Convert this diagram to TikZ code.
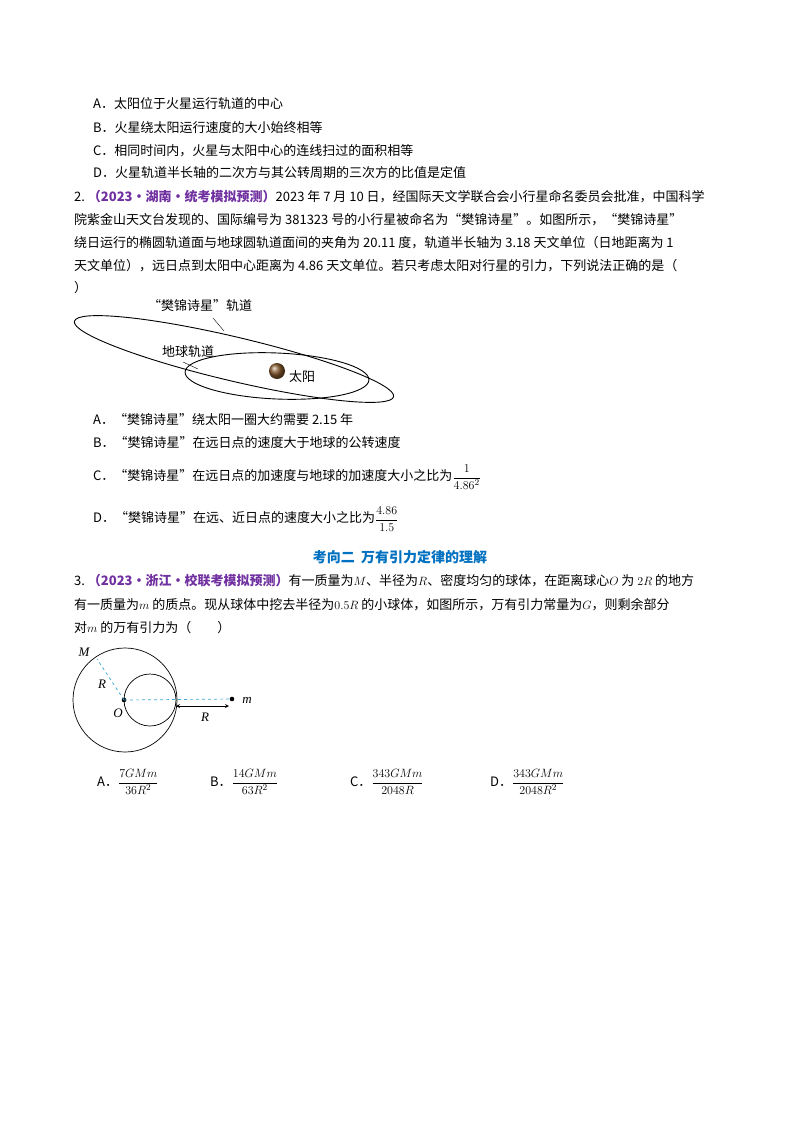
\documentclass[tikz,border=0pt]{standalone}
\usepackage{amsmath}
\usepackage{fontspec}
\setmainfont{Liberation Serif}
\newfontfamily\cjk{Noto Sans CJK SC}
\DeclareMathSizes{13}{13}{9.5}{7}
\definecolor{qp}{RGB}{112,48,160}
\definecolor{hb}{RGB}{0,112,192}
\definecolor{dl}{RGB}{60,170,210}
\begin{document}
\begin{tikzpicture}[x=1pt,y=-1pt,
 t/.style={anchor=west,inner sep=0pt,font=\fontsize{13}{15}\selectfont\cjk},
 lbl/.style={inner sep=1pt,font=\fontsize{13}{15}\selectfont\cjk},
 il/.style={inner sep=1pt,font=\fontsize{13}{15}\selectfont\itshape}]
\useasboundingbox (0,0) rectangle (800,1132);
\fill[white] (0,0) rectangle (800,1132);
% Q1 options
\node[t] (a1) at (93,104) {A．太阳位于火星运行轨道的中心};
\node[t] (b1) at (93,128) {B．火星绕太阳运行速度的大小始终相等};
\node[t] (c1) at (93,151) {C．相同时间内，火星与太阳中心的连线扫过的面积相等};
\node[t] (d1) at (93,173) {D．火星轨道半长轴的二次方与其公转周期的三次方的比值是定值};
% Q2
\node[t] (q2a) at (74,197) {2.\ {\color{qp}\bfseries（2023·湖南·统考模拟预测）}2023 年 7 月 10 日，经国际天文学联合会小行星命名委员会批准，中国科学};
\node[t] (q2b) at (74,220) {院紫金山天文台发现的、国际编号为 381323 号的小行星被命名为“樊锦诗星”。如图所示，“樊锦诗星”};
\node[t] (q2c) at (74,243) {绕日运行的椭圆轨道面与地球圆轨道面间的夹角为 20.11 度，轨道半长轴为 3.18 天文单位（日地距离为 1};
\node[t] (q2d) at (74,266) {天文单位），远日点到太阳中心距离为 4.86 天文单位。若只考虑太阳对行星的引力，下列说法正确的是（};
\node[t] (q2e) at (74,288) {）};
% orbit figure
\draw[line width=0.9pt] (234,359) ellipse[x radius=164,y radius=22,rotate=-13.3];
\draw[line width=0.9pt] (277,376) ellipse[x radius=92,y radius=23,rotate=-2.5];
\shade[ball color=brown!70!black] (277,371) circle (8);
\node[lbl] (sun) at (302,377) {太阳};
\node[lbl] (fl) at (200,306) {“樊锦诗星”轨道};
\coordinate (fp) at (224,331);
\draw (213,318) -- (fp);
\node[lbl] (el) at (188,352) {地球轨道};
\coordinate (ep) at (198,369);
\draw (183,362) -- (ep);
% Q2 options
\node[t] (a2) at (93,420) {A．“樊锦诗星”绕太阳一圈大约需要 2.15 年};
\node[t] (b2) at (93,443) {B．“樊锦诗星”在远日点的速度大于地球的公转速度};
\node[t] (c2) at (93,477) {C．“樊锦诗星”在远日点的加速度与地球的加速度大小之比为$\dfrac{1}{4.86^2}$};
\node[t] (d2) at (93,519) {D．“樊锦诗星”在远、近日点的速度大小之比为$\dfrac{4.86}{1.5}$};
% heading
\node[inner sep=0pt,font=\fontsize{14}{16}\selectfont\cjk\bfseries,text=hb] (h) at (400,557) {考向二\ \ 万有引力定律的理解};
% Q3
\node[t] (q3a) at (74,581) {3.\ {\color{qp}\bfseries（2023·浙江·校联考模拟预测）}有一质量为$M$、半径为$R$、密度均匀的球体，在距离球心$O$ 为 $2R$ 的地方};
\node[t] (q3b) at (74,605) {有一质量为$m$ 的质点。现从球体中挖去半径为$0.5R$ 的小球体，如图所示，万有引力常量为$G$，则剩余部分};
\node[t] (q3c) at (74,628) {对$m$ 的万有引力为（\qquad）};
% sphere figure
\draw[line width=0.7pt] (125,700) circle (52);
\draw[line width=0.7pt] (150,700) circle (26);
\fill (124,700) circle (2.3) coordinate (O);
\fill (232,699) circle (2.3) coordinate (pm);
\coordinate (Mp) at (97,659);
\draw[dl,dashed,line width=0.7pt] (O) -- (Mp);
\draw[dl,dashed,line width=0.7pt] (O) -- (pm);
\coordinate (a0) at (176,706);
\coordinate (a1e) at (229,706);
\draw[line width=0.8pt,<->,>=stealth] (a0) -- (a1e);
\node[il] (Ml) at (84,652) {M};
\node[il] (Rl) at (102,684) {R};
\node[il] (Ol) at (118,713) {O};
\node[il] (R2) at (205,717) {R};
\node[il] (ml) at (247,700) {m};
% answers
\node[t] (ansA) at (97,782) {A．$\dfrac{7GMm}{36R^2}$};
\node[t] (ansB) at (210,782) {B．$\dfrac{14GMm}{63R^2}$};
\node[t] (ansC) at (350,782) {C．$\dfrac{343GMm}{2048R}$};
\node[t] (ansD) at (490,782) {D．$\dfrac{343GMm}{2048R^2}$};
\end{tikzpicture}
\end{document}
